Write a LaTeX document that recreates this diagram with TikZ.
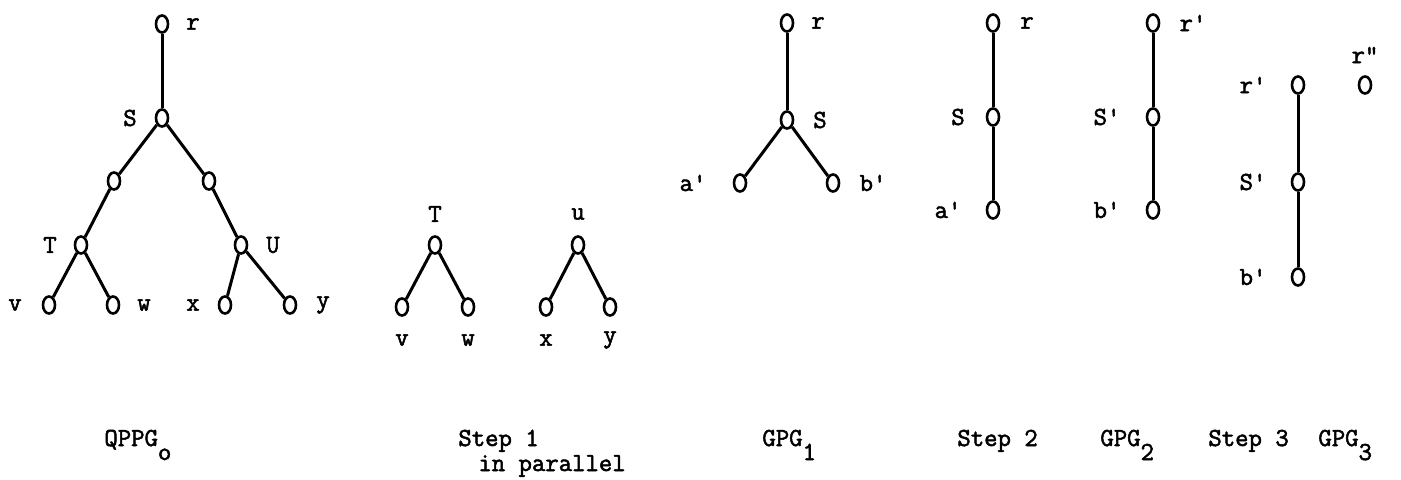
\documentclass[tikz,border=0pt]{standalone}
\usepackage{fontspec}
\setmonofont{Latin Modern Mono}[FakeBold=2]
\usepackage{tikz}
\usetikzlibrary{shapes.geometric}

\begin{document}
\begin{tikzpicture}[x=0.5pt, y=-0.5pt,
    vert/.style={draw, ellipse, line width=1.3pt, minimum width=6pt, minimum height=8.5pt, inner sep=0pt},
    lbl/.style={font=\ttfamily\fontsize{13}{15}\selectfont, inner sep=0pt},
    capt/.style={lbl, anchor=base west},
    edge/.style={line width=1.5pt}]
  \useasboundingbox (0,0) rectangle (1401,480);

  % QPPG_o: the whole tree
  \node[vert] (qr) at (162,24) {};
  \node[vert] (qS) at (162,118) {};
  \node[vert] (qa) at (114,181) {};
  \node[vert] (qb) at (209,181) {};
  \node[vert] (qT) at (81,245) {};
  \node[vert] (qU) at (241,245) {};
  \node[vert] (qv) at (49,305) {};
  \node[vert] (qw) at (113,305) {};
  \node[vert] (qx) at (225,305) {};
  \node[vert] (qy) at (290,305) {};
  \draw[edge] (qr) -- (qS);
  \draw[edge] (qS) -- (qa) -- (qT);
  \draw[edge] (qS) -- (qb) -- (qU);
  \draw[edge] (qT) -- (qv);
  \draw[edge] (qT) -- (qw);
  \draw[edge] (qU) -- (qx);
  \draw[edge] (qU) -- (qy);
  \node[lbl] (qrl) at (193,24) {r};
  \node[lbl] (qSl) at (130,118) {S};
  \node[lbl] (qTl) at (50,245) {T};
  \node[lbl] (qUl) at (273,245) {U};
  \node[lbl] (qvl) at (15,305) {v};
  \node[lbl] (qwl) at (144,305) {w};
  \node[lbl] (qxl) at (193,305) {x};
  \node[lbl] (qyl) at (323,305) {y};

  % Step 1: two small trees
  \node[vert] (sT) at (435,245) {};
  \node[vert] (sv) at (402,307) {};
  \node[vert] (sw) at (468,307) {};
  \node[vert] (su) at (578,245) {};
  \node[vert] (sx) at (546,307) {};
  \node[vert] (sy) at (610,307) {};
  \draw[edge] (sv) -- (sT) -- (sw);
  \draw[edge] (sx) -- (su) -- (sy);
  \node[lbl] (sTl) at (435,214) {T};
  \node[lbl] (sul) at (578,214) {u};
  \node[lbl] (svl) at (402,340) {v};
  \node[lbl] (swl) at (468,340) {w};
  \node[lbl] (sxl) at (546,340) {x};
  \node[lbl] (syl) at (610,340) {y};

  % GPG_1
  \node[vert] (gr) at (787,23) {};
  \node[vert] (gS) at (787,120) {};
  \node[vert] (ga) at (740,183) {};
  \node[vert] (gb) at (833,183) {};
  \draw[edge] (gr) -- (gS);
  \draw[edge] (ga) -- (gS) -- (gb);
  \node[lbl] (grl) at (818,23) {r};
  \node[lbl] (gSl) at (820,120) {S};
  \node[lbl] (gal) at (693,183) {a'};
  \node[lbl] (gbl) at (873,183) {b'};

  % Step 2
  \node[vert] (tr) at (993,23) {};
  \node[vert] (tS) at (993,117) {};
  \node[vert] (ta) at (993,210) {};
  \draw[edge] (tr) -- (tS) -- (ta);
  \node[lbl] (trl) at (1027,23) {r};
  \node[lbl] (tSl) at (958,117) {S};
  \node[lbl] (tal) at (948,210) {a'};

  % GPG_2
  \node[vert] (ur) at (1153,23) {};
  \node[vert] (uS) at (1153,117) {};
  \node[vert] (ub) at (1153,210) {};
  \draw[edge] (ur) -- (uS) -- (ub);
  \node[lbl] (url) at (1193,23) {r'};
  \node[lbl] (uSl) at (1107,117) {S'};
  \node[lbl] (ubl) at (1107,210) {b'};

  % Step 3
  \node[vert] (vr) at (1298,85) {};
  \node[vert] (vS) at (1298,182) {};
  \node[vert] (vb) at (1298,277) {};
  \draw[edge] (vr) -- (vS) -- (vb);
  \node[lbl] (vrl) at (1253,85) {r'};
  \node[lbl] (vSl) at (1253,182) {S'};
  \node[lbl] (vbl) at (1253,277) {b'};

  % GPG_3
  \node[vert] (wr) at (1365,85) {};
  \node[lbl] (wrl) at (1365,55) {r\symbol{34}};

  % Captions
  \node[capt] (capq) at (104,446) {QPPG\raisebox{-7pt}{o}};
  \node[capt] (caps1) at (458,446) {Step 1};
  \node[capt] (caps1b) at (478,471) {in parallel};
  \node[capt] (capg1) at (762,446) {GPG\raisebox{-7pt}{1}};
  \node[capt] (caps2) at (957,446) {Step 2};
  \node[capt] (capg2) at (1100,446) {GPG\raisebox{-7pt}{2}};
  \node[capt] (caps3) at (1208,446) {Step 3};
  \node[capt] (capg3) at (1318,446) {GPG\raisebox{-7pt}{3}};
\end{tikzpicture}
\end{document}
